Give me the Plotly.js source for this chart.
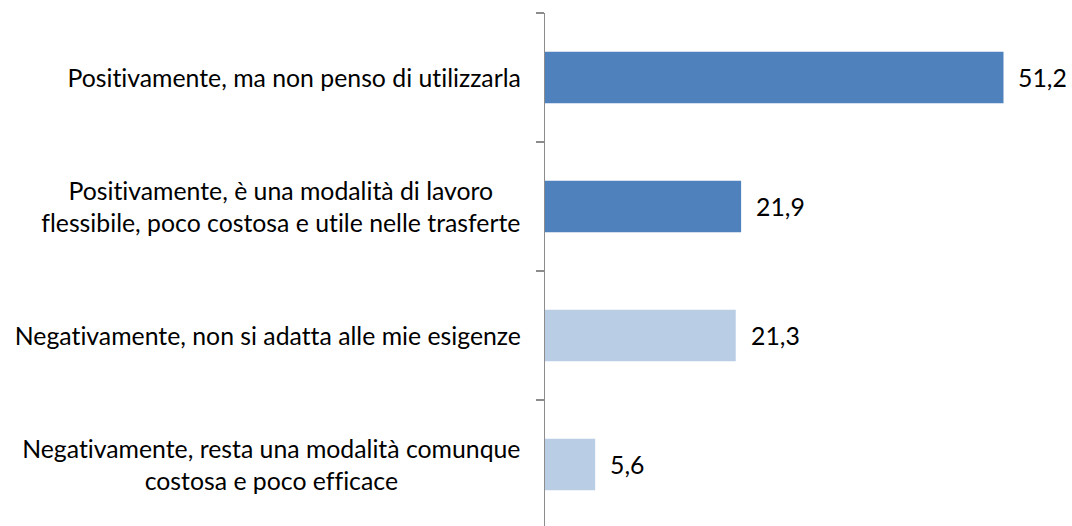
<!DOCTYPE html>
<html>
<head>
<meta charset="utf-8">
<script src="https://cdn.plot.ly/plotly-3.0.1.min.js"></script>
<style>html,body{margin:0;padding:0;background:#fff;}#chart{width:1072px;height:526px;}
#chart text{font-variant-ligatures:none;font-feature-settings:"liga" 0;}</style>
</head>
<body>
<div id="chart"></div>
<script>
const categories = [
  "Positivamente, ma non penso di utilizzarla",
  "Positivamente, è una modalità di lavoro<br>flessibile, poco costosa e utile nelle trasferte",
  "Negativamente, non si adatta alle mie esigenze",
  "Negativamente, resta una modalità comunque<br>costosa e poco efficace"
];
const values = [51.2, 21.9, 21.3, 5.6];
const barColors = ["#4F81BD", "#4F81BD", "#B9CDE5", "#B9CDE5"];

const FONT = "Lato, 'Liberation Sans', sans-serif";
const FS = 24.8;

const trace = {
  type: "bar",
  orientation: "h",
  x: values,
  y: categories,
  width: 0.4,
  marker: {color: barColors},
  hoverinfo: "skip"
};

const annotations = [];
categories.forEach((c, i) => {
  annotations.push({
    x: 0, y: c, xref: "x", yref: "y",
    text: c, showarrow: false,
    xanchor: "right", yanchor: "middle", align: "center",
    xshift: -22,
    font: {family: FONT, size: FS, color: "#000"}
  });
  annotations.push({
    x: values[i], y: c, xref: "x", yref: "y",
    text: values[i].toFixed(1).replace(".", ","), showarrow: false,
    xanchor: "left", yanchor: "middle",
    xshift: 13,
    font: {family: FONT, size: FS, color: "#000"}
  });
});

const layout = {
  width: 1072, height: 526,
  margin: {l: 545, r: 0, t: 13, b: 0, pad: 0},
  paper_bgcolor: "#fff", plot_bgcolor: "#fff",
  showlegend: false,
  xaxis: {range: [0, 58.85], showgrid: false, zeroline: false, showline: false, showticklabels: false, ticks: ""},
  yaxis: {
    type: "category",
    categoryorder: "array", categoryarray: categories,
    range: [3.4767, -0.5],
    showgrid: false, zeroline: false,
    showline: true, linecolor: "#8C8C8C", linewidth: 1.5,
    ticks: "outside", tickson: "boundaries", ticklen: 8, tickcolor: "#8C8C8C", tickwidth: 1.5,
    showticklabels: false
  },
  annotations: annotations
};

Plotly.newPlot("chart", [trace], layout, {displayModeBar: false, staticPlot: true});
</script>
</body>
</html>
